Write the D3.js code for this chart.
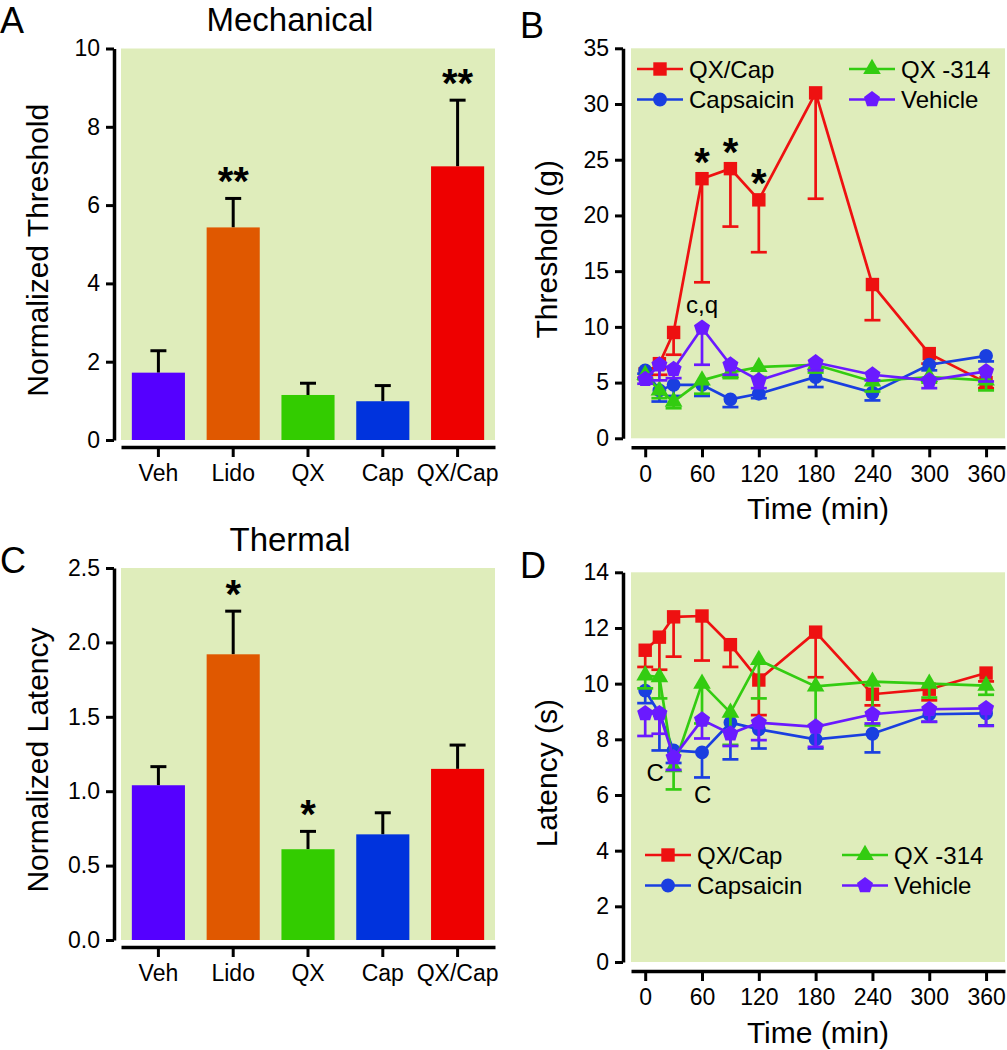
<!DOCTYPE html>
<html><head><meta charset="utf-8">
<script src="https://cdn.jsdelivr.net/npm/d3@7"></script>
<style>
body{margin:0;background:#fff}
text{font-family:"Liberation Sans",Arial,Helvetica,sans-serif;fill:#000}
</style>
</head><body>
<svg id="chart" width="1007" height="1050"></svg>
<script>
// ---------------- DATA ----------------
const barCategories = ["Veh", "Lido", "QX", "Cap", "QX/Cap"];
const barColors = ["#5500ff", "#e05800", "#33cc00", "#0033dd", "#ee0000"];

const mechMean = [1.72, 5.43, 1.15, 0.99, 6.99];
const mechSem  = [0.56, 0.74, 0.30, 0.40, 1.69];
const mechSig  = ["", "**", "", "", "**"];
const mechTicks = [0, 2, 4, 6, 8, 10];

const thermMean = [1.04, 1.92, 0.61, 0.71, 1.15];
const thermSem  = [0.125, 0.29, 0.12, 0.145, 0.16];
const thermSig  = ["", "*", "*", "", ""];
const thermTicks = [0, 0.5, 1.0, 1.5, 2.0, 2.5];

const times = [0, 15, 30, 60, 90, 120, 180, 240, 300, 360];
const timeTicks = [0, 60, 120, 180, 240, 300, 360];

const seriesNames = ["QX/Cap", "Capsaicin", "QX -314", "Vehicle"];
const seriesColors = ["#ee1111", "#1a3fe0", "#33cc11", "#6a1aff"];

// Panel B: mechanical threshold (g)
const mechQXCap    = [5.8, 6.7, 9.5, 23.3, 24.2, 21.4, 31.0, 13.8, 7.6, 5.0];
const mechQXCapSem = [0.4, 1.0, 2.0, 9.3, 5.2, 4.7, 9.5, 3.2, 0.9, 0.5];
const mechCap      = [6.1, 4.3, 4.8, 4.8, 3.5, 4.0, 5.5, 4.1, 6.6, 7.4];
const mechCapSem   = [0.3, 1.0, 1.0, 1.0, 0.7, 0.4, 0.9, 0.7, 0.5, 0.5];
const mechQX       = [5.7, 4.3, 3.3, 5.2, 5.9, 6.4, 6.6, 5.1, 5.5, 5.2];
const mechQXSem    = [0.4, 0.7, 0.6, 1.2, 0.5, 0.9, 0.7, 0.9, 0.5, 0.9];
const mechVeh      = [5.3, 6.6, 6.2, 9.9, 6.6, 5.2, 6.8, 5.7, 5.2, 6.0];
const mechVehSem   = [0.4, 1.4, 0.8, 3.3, 0.9, 0.7, 0.7, 0.5, 0.7, 0.9];
const mechLineTicks = [0, 5, 10, 15, 20, 25, 30, 35];

// Panel D: thermal latency (s)
const thermQXCap    = [11.2, 11.67, 12.4, 12.43, 11.4, 10.13, 11.85, 9.62, 9.8, 10.38];
const thermQXCapSem = [0.6, 1.17, 1.43, 1.6, 0.8, 1.26, 1.62, 0.4, 0.4, 0.3];
const thermCap      = [9.75, 8.93, 7.6, 7.53, 8.6, 8.36, 8.0, 8.2, 8.9, 8.93];
const thermCapSem   = [0.45, 1.33, 0.45, 0.9, 1.32, 0.69, 0.33, 0.67, 0.27, 0.43];
const thermQX       = [10.3, 10.23, 7.0, 10.0, 8.96, 10.85, 9.9, 10.07, 10.0, 9.93];
const thermQXSem    = [0.47, 0.76, 0.8, 1.43, 1.16, 1.38, 1.4, 1.57, 0.5, 0.33];
const thermVeh      = [8.93, 8.93, 7.35, 8.7, 8.2, 8.6, 8.45, 8.9, 9.08, 9.11];
const thermVehSem   = [0.81, 0.73, 0.45, 0.67, 0.44, 0.63, 0.72, 0.33, 0.45, 0.63];
const thermLineTicks = [0, 2, 4, 6, 8, 10, 12, 14];

// annotations (data units)
const mechStarTimes = [60, 90, 120];
const mechNote = {t: 60, text: "c,q"};
const thermNotes = [{t: 10.4, v: 6.51, text: "C"}, {t: 60.7, v: 5.71, text: "C"}];

// ---------------- DRAWING ----------------
const svg = d3.select("#chart");
const BG = "#dfedbb";
const FONT_TICK = 23;

const symbolPentagon = {
  draw(ctx, size) {
    const r = Math.sqrt(size / (2.5 * Math.sin(2 * Math.PI / 5)));
    for (let i = 0; i < 5; i++) {
      const a = -Math.PI / 2 + i * 2 * Math.PI / 5;
      const px = r * Math.cos(a), py = r * Math.sin(a);
      if (i) ctx.lineTo(px, py); else ctx.moveTo(px, py);
    }
    ctx.closePath();
  }
};
const seriesSymbols = [
  d3.symbol().type(d3.symbolSquare).size(180),
  d3.symbol().type(d3.symbolCircle).size(150),
  d3.symbol().type(d3.symbolTriangle).size(135),
  d3.symbol().type(symbolPentagon).size(170)
];

function styleAxis(g) {
  g.select(".domain").attr("stroke", "#000").attr("stroke-width", 3.5);
  g.selectAll(".tick line").attr("stroke", "#000").attr("stroke-width", 3);
  g.selectAll(".tick text").style("font-size", FONT_TICK + "px")
    .style("font-family", '"Liberation Sans",Arial,sans-serif').attr("fill", "#000");
}

function barPanel(cfg) {
  const X0 = 121, X1 = 495;
  const g = svg.append("g");
  const x = d3.scaleBand().domain(barCategories).range([X0, X1]).paddingInner(0.29).paddingOuter(0.145);
  const y = d3.scaleLinear().domain([0, cfg.yMax]).range([cfg.bottom, cfg.top]);
  g.append("rect").attr("x", X0).attr("y", cfg.top).attr("width", X1 - X0)
    .attr("height", cfg.bottom - cfg.top).attr("fill", BG);
  const data = barCategories.map((c, i) => ({c, m: cfg.mean[i], s: cfg.sem[i], sig: cfg.sig[i], col: barColors[i]}));
  const eb = g.selectAll(".eb").data(data).enter().append("g");
  eb.append("line").attr("x1", d => x(d.c) + x.bandwidth() / 2).attr("x2", d => x(d.c) + x.bandwidth() / 2)
    .attr("y1", d => y(d.m)).attr("y2", d => y(d.m + d.s)).attr("stroke", "#000").attr("stroke-width", 3);
  eb.append("line").attr("x1", d => x(d.c) + x.bandwidth() / 2 - 8).attr("x2", d => x(d.c) + x.bandwidth() / 2 + 8)
    .attr("y1", d => y(d.m + d.s)).attr("y2", d => y(d.m + d.s)).attr("stroke", "#000").attr("stroke-width", 3);
  g.selectAll(".bar").data(data).enter().append("rect")
    .attr("x", d => x(d.c)).attr("width", x.bandwidth())
    .attr("y", d => y(d.m)).attr("height", d => cfg.bottom - y(d.m)).attr("fill", d => d.col);
  g.selectAll(".sig").data(data.filter(d => d.sig)).enter().append("text")
    .attr("x", d => x(d.c) + x.bandwidth() / 2).attr("y", d => y(d.m + d.s) - 3)
    .attr("text-anchor", "middle").style("font-size", "40px").style("font-weight", "bold").text(d => d.sig);
  const ya = g.append("g").attr("transform", "translate(114,0)")
    .call(d3.axisLeft(y).tickValues(cfg.ticks).tickFormat(cfg.fmt).tickSize(8).tickPadding(6).tickSizeOuter(0));
  styleAxis(ya);
  const xa = g.append("g").attr("transform", `translate(0,${cfg.bottom + 7})`)
    .call(d3.axisBottom(x).tickSize(10).tickPadding(8).tickSizeOuter(0));
  styleAxis(xa);
  g.append("text").attr("x", 290).attr("y", cfg.titleY).attr("text-anchor", "middle")
    .style("font-size", "33px").text(cfg.title);
  g.append("text").attr("x", 0).attr("y", cfg.letterY).style("font-size", "36px").text(cfg.letter);
  g.append("text").attr("transform", `translate(48,${(cfg.top + cfg.bottom) / 2 + 6}) rotate(-90)`)
    .attr("text-anchor", "middle").style("font-size", "30px").text(cfg.yLabel);
}

function linePanel(cfg) {
  const X0 = 631, X1 = 1005;
  const g = svg.append("g");
  const x = d3.scaleLinear().domain([-15, 380]).range([X0, X1]);
  const y = d3.scaleLinear().domain([0, cfg.yMax]).range([cfg.bottom, cfg.top]);
  g.append("rect").attr("x", X0).attr("y", cfg.top).attr("width", X1 - X0)
    .attr("height", cfg.bottom - cfg.top).attr("fill", BG);

  const line = d3.line().x(d => x(d.t)).y(d => y(d.v));
  cfg.series.forEach((s, si) => {
    const pts = times.map((t, i) => ({t, v: s.mean[i], e: s.sem[i]}));
    const col = seriesColors[si];
    const sg = g.append("g");
    sg.selectAll(".e").data(pts).enter().append("line")
      .attr("x1", d => x(d.t)).attr("x2", d => x(d.t)).attr("y1", d => y(d.v)).attr("y2", d => y(d.v - d.e))
      .attr("stroke", col).attr("stroke-width", 2.7);
    sg.selectAll(".c").data(pts).enter().append("line")
      .attr("x1", d => x(d.t) - 8).attr("x2", d => x(d.t) + 8).attr("y1", d => y(d.v - d.e)).attr("y2", d => y(d.v - d.e))
      .attr("stroke", col).attr("stroke-width", 2.7);
    sg.append("path").datum(pts).attr("d", line).attr("fill", "none").attr("stroke", col).attr("stroke-width", 2.7);
    sg.selectAll(".m").data(pts).enter().append("path")
      .attr("transform", d => `translate(${x(d.t)},${y(d.v)})`).attr("d", seriesSymbols[si]()).attr("fill", col);
  });
  if (cfg.after) cfg.after(g, x, y);

  const legCols = [cfg.legX0, cfg.legX1];
  const legendItems = [{i: 0, c: 0, r: 0}, {i: 2, c: 1, r: 0}, {i: 1, c: 0, r: 1}, {i: 3, c: 1, r: 1}];
  legendItems.forEach(it => {
    const lx = legCols[it.c], ly = cfg.legY + it.r * 30.5;
    g.append("line").attr("x1", lx).attr("x2", lx + 46).attr("y1", ly).attr("y2", ly)
      .attr("stroke", seriesColors[it.i]).attr("stroke-width", 2.7);
    g.append("path").attr("transform", `translate(${lx + 23},${ly})`).attr("d", seriesSymbols[it.i]()).attr("fill", seriesColors[it.i]);
    g.append("text").attr("x", lx + 52).attr("y", ly + 8.5).style("font-size", "24px").text(seriesNames[it.i]);
  });

  const ya = g.append("g").attr("transform", "translate(623,0)")
    .call(d3.axisLeft(y).tickValues(cfg.ticks).tickSize(8).tickPadding(6).tickSizeOuter(0));
  styleAxis(ya);
  const xa = g.append("g").attr("transform", `translate(0,${cfg.bottom + 9})`)
    .call(d3.axisBottom(x).tickValues(timeTicks).tickSize(10).tickPadding(8).tickSizeOuter(0));
  styleAxis(xa);
  g.append("text").attr("x", (X0 + X1) / 2).attr("y", cfg.bottom + 81).attr("text-anchor", "middle")
    .style("font-size", "30px").text("Time (min)");
  g.append("text").attr("x", 520).attr("y", cfg.letterY).style("font-size", "36px").text(cfg.letter);
  g.append("text").attr("transform", `translate(557,${(cfg.top + cfg.bottom) / 2 + 6}) rotate(-90)`)
    .attr("text-anchor", "middle").style("font-size", "30px").text(cfg.yLabel);
}

barPanel({top: 48.5, bottom: 440, yMax: 10, ticks: mechTicks, fmt: d3.format("d"),
  mean: mechMean, sem: mechSem, sig: mechSig, title: "Mechanical", titleY: 31,
  letter: "A", letterY: 33, yLabel: "Normalized Threshold"});
barPanel({top: 568, bottom: 940, yMax: 2.5, ticks: thermTicks, fmt: d3.format(".1f"),
  mean: thermMean, sem: thermSem, sig: thermSig, title: "Thermal", titleY: 551,
  letter: "C", letterY: 573, yLabel: "Normalized Latency"});

linePanel({top: 48.3, bottom: 438.3, yMax: 35, ticks: mechLineTicks, letter: "B", letterY: 38,
  yLabel: "Threshold (g)", legY: 69, legX0: 637, legX1: 849,
  series: [
    {mean: mechQXCap, sem: mechQXCapSem},
    {mean: mechCap, sem: mechCapSem},
    {mean: mechQX, sem: mechQXSem},
    {mean: mechVeh, sem: mechVehSem}],
  after: (g, x, y) => {
    mechStarTimes.forEach(t => {
      const v = mechQXCap[times.indexOf(t)];
      g.append("text").attr("x", x(t)).attr("y", y(v) - 3).attr("text-anchor", "middle")
        .style("font-size", "40px").style("font-weight", "bold").text("*");
    });
    const vv = mechVeh[times.indexOf(mechNote.t)];
    g.append("text").attr("x", x(mechNote.t)).attr("y", y(vv) - 15).attr("text-anchor", "middle")
      .style("font-size", "24px").text(mechNote.text);
  }});

linePanel({top: 572.3, bottom: 962, yMax: 14, ticks: thermLineTicks, letter: "D", letterY: 578,
  yLabel: "Latency (s)", legY: 855, legX0: 645, legX1: 842,
  series: [
    {mean: thermQXCap, sem: thermQXCapSem},
    {mean: thermCap, sem: thermCapSem},
    {mean: thermQX, sem: thermQXSem},
    {mean: thermVeh, sem: thermVehSem}],
  after: (g, x, y) => {
    thermNotes.forEach(n => {
      g.append("text").attr("x", x(n.t)).attr("y", y(n.v)).attr("text-anchor", "middle")
        .style("font-size", "24px").text(n.text);
    });
  }});
</script>
</body></html>
